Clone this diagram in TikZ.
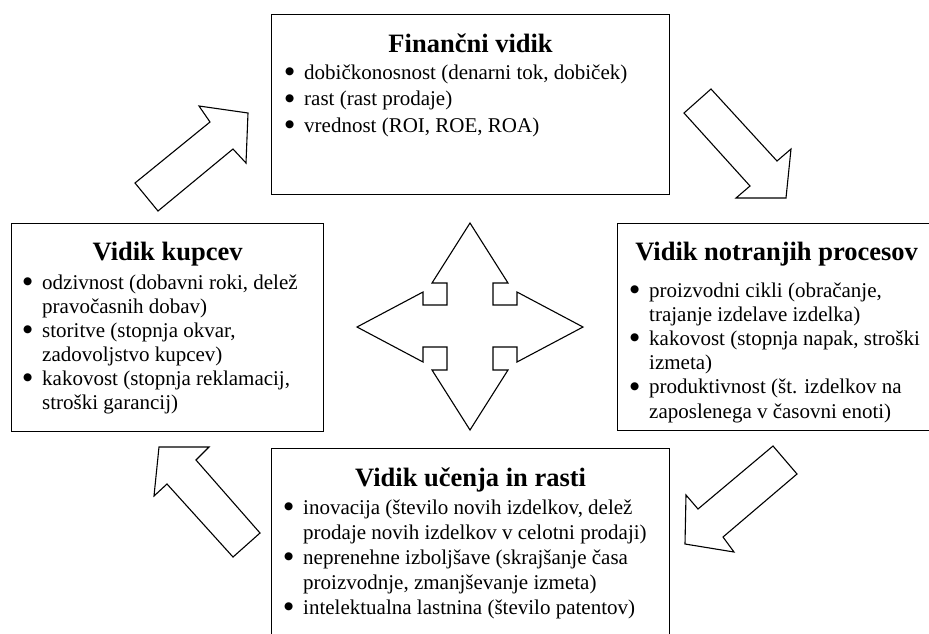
\documentclass[tikz,border=0pt]{standalone}
\usepackage{fontspec}
\setmainfont{Liberation Serif}
\newfontfamily\symfont{DejaVu Sans}
\newcommand{\itm}{\makebox[20pt][l]{\hspace{1pt}\raisebox{4.5pt}{\symfont\fontsize{10.5}{10.5}\selectfont ●}}}

\begin{document}
\begin{tikzpicture}[x=1pt, y=-1pt,
    box/.style={draw=black, line width=1.2pt, anchor=north west, inner sep=0pt},
    title/.style={anchor=base, inner sep=0pt, font=\bfseries\fontsize{26.5}{30}\selectfont},
    items/.style={anchor=base west, inner sep=0pt, font=\fontsize{21}{#1}\selectfont},
    bigarrow/.style={draw=black, line width=1.1pt, fill=white, line join=miter}]
    \clip (0,0) rectangle (929,633);

    % the four boxes
    \node [box, minimum width=398pt, minimum height=180pt] (fin) at (271,14) {};
    \node [box, minimum width=312pt, minimum height=208pt] (kup) at (11,223) {};
    \node [box, minimum width=318pt, minimum height=207pt] (proc) at (617,223) {};
    \node [box, minimum width=398pt, minimum height=200pt] (ucen) at (271,448) {};

    % titles
    \node [title] (fintitle) at ([yshift=-38pt]fin.north) {Finančni vidik};
    \node [title] (kuptitle) at ([yshift=-37pt]kup.north) {Vidik kupcev};
    \node [title] (proctitle) at ([yshift=-37pt]proc.north) {Vidik notranjih procesov};
    \node [title] (ucentitle) at ([yshift=-38pt]ucen.north) {Vidik učenja in rasti};

    % bullet lists
    \node [items=26.7] (finlist) at ([xshift=13pt, yshift=-65pt]fin.north west) {%
      \begin{tabular}[t]{@{}l@{}}
        \itm dobičkonosnost (denarni tok, dobiček)\\
        \itm rast (rast prodaje)\\
        \itm vrednost (ROI, ROE, ROA)
      \end{tabular}};
    \node [items=24] (kuplist) at ([xshift=11pt, yshift=-66pt]kup.north west) {%
      \begin{tabular}[t]{@{}l@{}}
        \itm odzivnost (dobavni roki, delež\\
        \hspace*{20pt}pravočasnih dobav)\\
        \itm storitve (stopnja okvar,\\
        \hspace*{20pt}zadovoljstvo kupcev)\\
        \itm kakovost (stopnja reklamacij,\\
        \hspace*{20pt}stroški garancij)
      \end{tabular}};
    \node [items=24.2] (proclist) at ([xshift=12pt, yshift=-74pt]proc.north west) {%
      \begin{tabular}[t]{@{}l@{}}
        \itm proizvodni cikli (obračanje,\\
        \hspace*{20pt}trajanje izdelave izdelka)\\
        \itm kakovost (stopnja napak, stroški\\
        \hspace*{20pt}izmeta)\\
        \itm produktivnost (št. izdelkov na\\
        \hspace*{20pt}zaposlenega v časovni enoti)
      \end{tabular}};
    \node [items=25] (ucenlist) at ([xshift=12pt, yshift=-66pt]ucen.north west) {%
      \begin{tabular}[t]{@{}l@{}}
        \itm inovacija (število novih izdelkov, delež\\
        \hspace*{20pt}prodaje novih izdelkov v celotni prodaji)\\
        \itm neprenehne izboljšave (skrajšanje časa\\
        \hspace*{20pt}proizvodnje, zmanjševanje izmeta)\\
        \itm intelektualna lastnina (število patentov)
      \end{tabular}};

    % four-way arrow in the middle
    \draw [bigarrow, shift={(470,327)}]
      (0,-104) -- (38,-44) -- (23,-44) -- (23,-22) -- (47,-22) -- (47,-35)
      -- (113,0) -- (47,35) -- (47,20) -- (23,20) -- (23,43) -- (38,43)
      -- (0,103) -- (-38,43) -- (-23,43) -- (-23,20) -- (-47,20) -- (-47,35)
      -- (-113,0) -- (-47,-35) -- (-47,-22) -- (-23,-22) -- (-23,-44) -- (-38,-44)
      -- cycle;

    % block arrows between the boxes
    \draw [bigarrow] (135,183) -- (210,122) -- (199,106) -- (248,113)
      -- (246,163) -- (233,149) -- (158,211) -- cycle;
    \draw [bigarrow] (711,89) -- (777,161) -- (791,149) -- (786,198)
      -- (736,198) -- (750,186) -- (684,113) -- cycle;
    \draw [bigarrow] (797,474) -- (723,537) -- (734,552) -- (685,544)
      -- (686,495) -- (698,509) -- (773,446) -- cycle;
    \draw [bigarrow] (233,557) -- (167,484) -- (154,496) -- (159,447)
      -- (209,447) -- (196,460) -- (260,533) -- cycle;
\end{tikzpicture}
\end{document}
